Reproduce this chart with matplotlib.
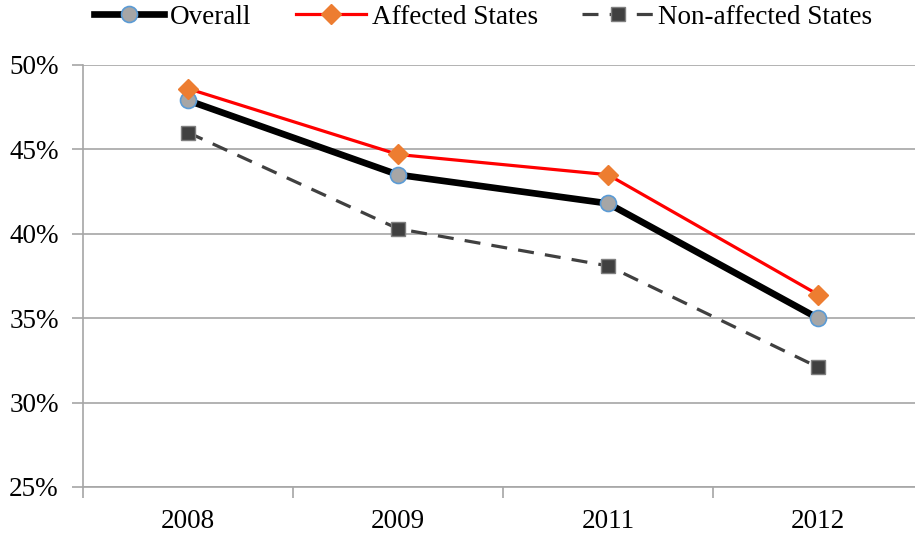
import matplotlib
matplotlib.use("Agg")
import matplotlib.pyplot as plt
from matplotlib.ticker import FixedLocator, NullFormatter, FixedFormatter

years = ["2008", "2009", "2011", "2012"]
overall = [47.9, 43.5, 41.8, 35.0]
affected = [48.6, 44.7, 43.5, 36.4]
non_affected = [46.0, 40.3, 38.1, 32.1]
y_ticks = [25, 30, 35, 40, 45, 50]

plt.rcParams["font.family"] = ["Liberation Serif", "DejaVu Serif"]
plt.rcParams["font.size"] = 19.5

W, H = 915, 537
fig = plt.figure(figsize=(W / 100, H / 100), dpi=100)
left, right = 83, 83 + 4 * 210
top, bottom = 65, 487
ax = fig.add_axes([left / W, (H - bottom) / H, (right - left) / W, (bottom - top) / H])

x = list(range(len(years)))
grid_c = "#A6A6A6"

ax.plot(x, non_affected, color="#404040", lw=2.3, ls=(0, (5, 3.5)),
        marker="s", ms=10, mfc="#404040", mec="#7F7F7F", mew=1.0,
        label="Non-affected States", zorder=3)
ax.plot(x, overall, color="black", lw=4.8, marker="o", ms=11.5,
        mfc="#A6A6A6", mec="#5B9BD5", mew=1.2, label="Overall", zorder=4)
ax.plot(x, affected, color="#FF0000", lw=2.3, marker="D", ms=10,
        mfc="#ED7D31", mec="#ED7D31", mew=1.0, label="Affected States", zorder=5)

ax.set_xlim(-0.5, 3.5)
ax.set_ylim(25, 50)
ax.set_yticks(y_ticks)
ax.set_yticklabels([f"{v}%" for v in y_ticks])
ax.yaxis.grid(True, color=grid_c, lw=1.2)
ax.set_axisbelow(True)

ax.xaxis.set_major_locator(FixedLocator([-0.5, 0.5, 1.5, 2.5, 3.5]))
ax.xaxis.set_major_formatter(NullFormatter())
ax.xaxis.set_minor_locator(FixedLocator(x))
ax.xaxis.set_minor_formatter(FixedFormatter(years))
ax.tick_params(axis="x", which="major", length=8, color=grid_c, width=1.2, direction="out")
ax.tick_params(axis="x", which="minor", length=0, pad=16)
ax.tick_params(axis="y", length=8, color=grid_c, width=1.2, pad=9.5)

for s in ["top", "right"]:
    ax.spines[s].set_visible(False)
for s in ["left", "bottom"]:
    ax.spines[s].set_color(grid_c)
    ax.spines[s].set_linewidth(1.2)

h, l = ax.get_legend_handles_labels()
order = [1, 2, 0]
fig.legend([h[i] for i in order], [l[i] for i in order], loc="upper center",
           bbox_to_anchor=(0.528, 1.037), ncol=3, frameon=False,
           handlelength=2.6, handletextpad=0.2, columnspacing=1.65)

fig.savefig("out.png", dpi=100)
